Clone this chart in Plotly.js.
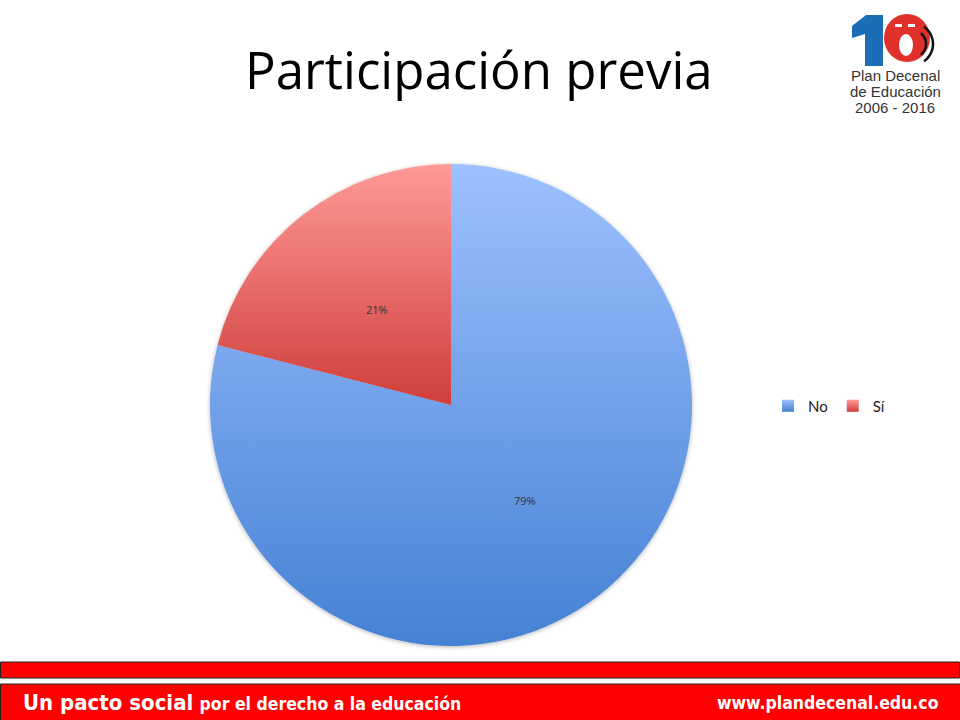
<!DOCTYPE html>
<html>
<head>
<meta charset="utf-8">
<script src="https://cdn.plot.ly/plotly-3.0.1.min.js"></script>
<style>
html,body{margin:0;padding:0;background:#fff;}
#chart{width:960px;height:720px;}
</style>
</head>
<body>
<div id="chart"></div>
<script>
// ---- data ----
const categories = ["No", "Sí"];
const values = [79, 21];
const colorsTop = ["#9DC1FF", "#FF9A97"];
const colorsBottom = ["#4581D4", "#CF3E3A"];
const titleText = "Participación previa";
const footerLeftBig = "Un pacto social";
const footerLeftSmall = "por el derecho a la educación";
const footerRight = "www.plandecenal.edu.co";
const logoLines = ["Plan Decenal", "de Educación", "2006 - 2016"];

const W = 960, H = 720;
const px = x => x / W;
const py = y => 1 - y / H;

const domX = [px(210), px(692)];
const domY = [py(646), py(164)];

const trace = {
  type: "pie",
  labels: categories,
  values: values,
  sort: false,
  direction: "clockwise",
  rotation: 0,
  marker: { colors: colorsBottom, line: { width: 0 } },
  textinfo: "none",
  hoverinfo: "none",
  domain: { x: domX, y: domY }
};

// percent labels placed at half radius on each slice's mid angle (computed from the data)
const total = values.reduce((a, b) => a + b, 0);
const labelAnns = [];
{
  const cx = (domX[0] + domX[1]) / 2 * W, cy = (1 - (domY[0] + domY[1]) / 2) * H;
  const r = Math.min((domX[1] - domX[0]) * W, (domY[1] - domY[0]) * H) / 2;
  let cum = 0;
  values.forEach((v, i) => {
    const mid = (cum + v / 2) / total * 2 * Math.PI;
    cum += v;
    const x = cx + 0.5 * r * Math.sin(mid), y = cy - 0.5 * r * Math.cos(mid);
    labelAnns.push({ text: Math.round(v / total * 100) + "%", xref: "paper", yref: "paper",
      x: px(x), y: py(y), xanchor: "center", yanchor: "middle", showarrow: false,
      font: { family: "'Open Sans', Lato, sans-serif", size: 11, color: "#333" } });
  });
}

function arcPath(cx, cy, r, a0, a1) {
  const n = 16; let d = "";
  for (let i = 0; i <= n; i++) {
    const a = (a0 + (a1 - a0) * i / n) * Math.PI / 180;
    const x = px(cx + r * Math.cos(a)), y = py(cy + r * Math.sin(a));
    d += (i ? " L " : "M ") + x + "," + y;
  }
  return d;
}
function polyPath(pts) {
  return pts.map((p, i) => (i ? "L " : "M ") + px(p[0]) + "," + py(p[1])).join(" ") + " Z";
}

const shapes = [
  { type: "rect", xref: "paper", yref: "paper", x0: px(0.5), x1: px(959.5), y0: py(678), y1: py(662),
    fillcolor: "#FF0000", line: { color: "#222", width: 1 } },
  { type: "rect", xref: "paper", yref: "paper", x0: px(0.5), x1: px(961), y0: py(722), y1: py(684),
    fillcolor: "#FF0000", line: { color: "#222", width: 1 } },
  // logo: blue "1"
  { type: "path", xref: "paper", yref: "paper",
    path: polyPath([[852, 26], [866, 15], [883, 15], [883, 66], [865, 66], [865, 34], [852, 38]]),
    fillcolor: "#1B6DB5", line: { width: 0 } },
  // logo: red face
  { type: "circle", xref: "paper", yref: "paper", x0: px(884), x1: px(930), y0: py(62), y1: py(14),
    fillcolor: "#E0302C", line: { width: 0 } },
  { type: "rect", xref: "paper", yref: "paper", x0: px(895), x1: px(902), y0: py(27), y1: py(24),
    fillcolor: "#fff", line: { width: 0 } },
  { type: "rect", xref: "paper", yref: "paper", x0: px(908), x1: px(915), y0: py(27), y1: py(24),
    fillcolor: "#fff", line: { width: 0 } },
  { type: "circle", xref: "paper", yref: "paper", x0: px(899), x1: px(913), y0: py(56), y1: py(34),
    fillcolor: "#fff", line: { width: 0 } },
  { type: "path", xref: "paper", yref: "paper", path: arcPath(912, 44, 14, -50, 50), line: { color: "#111", width: 2.5 } },
  { type: "path", xref: "paper", yref: "paper", path: arcPath(912, 44, 21, -55, 55), line: { color: "#111", width: 2.5 } }
];

const annotations = [
  { text: titleText, xref: "paper", yref: "paper", x: px(479), y: py(69), xanchor: "center", yanchor: "middle",
    showarrow: false, font: { family: "'Open Sans', Lato, sans-serif", size: 51, color: "#000" } },
  { text: "<b>" + footerLeftBig + "</b> <b><span style='font-size:17.5px'>" + footerLeftSmall + "</span></b>",
    xref: "paper", yref: "paper", x: px(21), y: py(702), xanchor: "left", yanchor: "middle",
    showarrow: false, font: { family: "'DejaVu Sans Condensed', 'DejaVu Sans', sans-serif", size: 22, color: "#fff" } },
  { text: "<b>" + footerRight + "</b>", xref: "paper", yref: "paper", x: px(941), y: py(703), xanchor: "right", yanchor: "middle",
    showarrow: false, font: { family: "'DejaVu Sans Condensed', 'DejaVu Sans', sans-serif", size: 17.5, color: "#fff" } }
].concat(logoLines.map((t, i) => ({
  text: t, xref: "paper", yref: "paper", x: px(895), y: py(76 + i * 15.5), xanchor: "center", yanchor: "middle",
  showarrow: false, font: { family: "'Liberation Sans', Arial, sans-serif", size: 15, color: "#333" }
}))).concat(labelAnns);

const layout = {
  width: W, height: H,
  margin: { l: 0, r: 0, t: 0, b: 0 },
  paper_bgcolor: "#fff",
  showlegend: true,
  legend: { orientation: "h", x: px(768), y: py(406), xanchor: "left", yanchor: "middle",
    font: { family: "Lato, 'Open Sans', sans-serif", size: 15, color: "#222" }, itemwidth: 30,
    traceorder: "normal" },
  shapes: shapes,
  annotations: annotations
};

Plotly.newPlot("chart", [trace], layout, { displayModeBar: false, staticPlot: true }).then(gd => {
  const svg = gd.querySelector("svg.main-svg");
  const NS = "http://www.w3.org/2000/svg";
  let defs = svg.querySelector("defs");
  if (!defs) { defs = document.createElementNS(NS, "defs"); svg.insertBefore(defs, svg.firstChild); }
  categories.forEach((c, i) => {
    const g = document.createElementNS(NS, "linearGradient");
    g.setAttribute("id", "pg" + i);
    g.setAttribute("x1", "0"); g.setAttribute("y1", "0"); g.setAttribute("x2", "0"); g.setAttribute("y2", "1");
    const s1 = document.createElementNS(NS, "stop"); s1.setAttribute("offset", "0"); s1.setAttribute("stop-color", colorsTop[i]);
    const s2 = document.createElementNS(NS, "stop"); s2.setAttribute("offset", "1"); s2.setAttribute("stop-color", colorsBottom[i]);
    g.appendChild(s1); g.appendChild(s2); defs.appendChild(g);
  });
  const f = document.createElementNS(NS, "filter");
  f.setAttribute("id", "pshadow"); f.setAttribute("x", "-10%"); f.setAttribute("y", "-10%");
  f.setAttribute("width", "120%"); f.setAttribute("height", "120%");
  const ds = document.createElementNS(NS, "feDropShadow");
  ds.setAttribute("dx", "0"); ds.setAttribute("dy", "1"); ds.setAttribute("stdDeviation", "2");
  ds.setAttribute("flood-color", "#000"); ds.setAttribute("flood-opacity", "0.3");
  f.appendChild(ds); defs.appendChild(f);
  gd.querySelectorAll("g.slice").forEach((s, i) => {
    const p = s.querySelector("path.surface");
    if (p) p.style.fill = "url(#pg" + i + ")";
  });
  const pieLayer = gd.querySelector("g.pielayer g.trace");
  if (pieLayer) pieLayer.setAttribute("filter", "url(#pshadow)");
  gd.querySelectorAll("g.legend g.traces").forEach((t, i) => {
    const p = t.querySelector("path.legendpie");
    if (p) p.style.fill = "url(#pg" + i + ")";
  });
});
</script>
</body>
</html>
